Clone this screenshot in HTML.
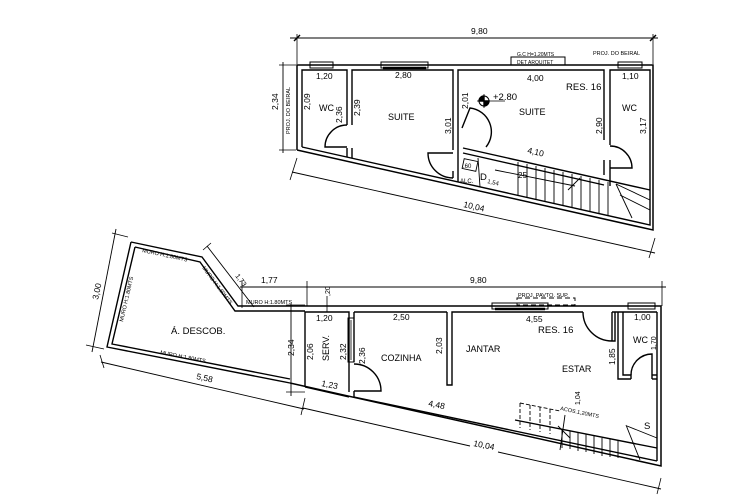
<!DOCTYPE html>
<html><head><meta charset="utf-8"><style>
html,body{margin:0;padding:0;background:#fff;}
svg{display:block;}
text{font-family:"Liberation Sans",sans-serif;fill:#000;}
</style></head><body>
<svg width="732" height="504" viewBox="0 0 732 504" xmlns="http://www.w3.org/2000/svg">
<rect width="732" height="504" fill="#fff"/>
<g stroke="#000" fill="none" stroke-width="1.4">
<!-- ===== UPPER PLAN ===== -->
<line x1="290" y1="38" x2="658" y2="38" stroke-width="0.9"/>
<line x1="297" y1="34" x2="297" y2="64" stroke-width="0.8"/>
<line x1="653" y1="34" x2="653" y2="64" stroke-width="0.8"/>
<line x1="294" y1="41" x2="300" y2="35"/><line x1="650" y1="41" x2="656" y2="35"/>
<line x1="283" y1="62" x2="283" y2="153" stroke-width="0.9"/>
<line x1="279" y1="65" x2="296" y2="65" stroke-width="0.8"/>
<line x1="279" y1="150" x2="296" y2="150" stroke-width="0.8"/>
<line x1="292" y1="172" x2="655" y2="253" stroke-width="0.9"/>
<line x1="297" y1="158" x2="290" y2="180" stroke-width="0.8"/>
<line x1="655" y1="238" x2="649" y2="258" stroke-width="0.8"/>
<polyline points="297,150 297,65 653,65 653,230 297,150" stroke-width="1.5"/>
<polyline points="302,147 302,70 347,70 347,125"/>
<polyline points="352,125 352,70 453,70 453,150"/>
<polyline points="458,150 458,70 604,70 604,140"/>
<polyline points="610,145 610,70 650,70 650,225 302,147"/>
<line x1="347" y1="148" x2="347" y2="157"/><line x1="352" y1="148" x2="352" y2="158"/>
<line x1="453" y1="171" x2="453" y2="178"/>
<line x1="604" y1="160" x2="604" y2="175"/><line x1="610" y1="160" x2="610" y2="186"/>
<path d="M347,147 L325,147 A22,22 0 0 1 347,125"/>
<path d="M453,153 L428,153 A25,25 0 0 0 453,178"/>
<path d="M462,128 L470,108 A24,24 0 0 1 486,147"/>
<path d="M610,146 A22,22 0 0 1 632,168 L610,168"/>
<rect x="310" y="62" width="23" height="6" stroke-width="1"/>
<rect x="381" y="62" width="47" height="6" stroke-width="1"/>
<rect x="511" y="57" width="54" height="8" stroke-width="1"/>
<rect x="618" y="62" width="24" height="6" stroke-width="1"/>
<line x1="383" y1="68" x2="426" y2="68" stroke-width="2.5"/>
<line x1="463" y1="148" x2="650" y2="190"/>
<line x1="463" y1="153" x2="604" y2="185"/>
<line x1="458" y1="150" x2="458" y2="182"/>
<g stroke-width="0.9">
<line x1="518" y1="162" x2="518" y2="195"/><line x1="527" y1="164" x2="527" y2="197"/>
<line x1="536" y1="166" x2="536" y2="199"/><line x1="545" y1="168" x2="545" y2="201"/>
<line x1="554" y1="170" x2="554" y2="203"/><line x1="563" y1="172" x2="563" y2="205"/>
<line x1="572" y1="174" x2="572" y2="207"/><line x1="581" y1="176" x2="581" y2="209"/>
<line x1="590" y1="178" x2="590" y2="211"/><line x1="599" y1="180" x2="599" y2="213"/>
<line x1="608" y1="182" x2="608" y2="215"/><line x1="616" y1="184" x2="632" y2="218"/>
<line x1="616" y1="184" x2="650" y2="200"/><line x1="620" y1="195" x2="650" y2="210"/>
<line x1="478" y1="158" x2="480" y2="187"/>
<rect x="463" y="160" width="14" height="10" transform="rotate(12 470 165)"/>
<line x1="495" y1="170" x2="575" y2="186"/>
<line x1="568" y1="190" x2="580" y2="178"/>
</g>
<circle cx="484" cy="101" r="5" stroke-width="1"/>
<line x1="477" y1="101" x2="505" y2="101" stroke-width="0.8"/>
<line x1="484" y1="94" x2="484" y2="108" stroke-width="0.8"/>
<path d="M484,96 A5,5 0 0 0 479,101 L484,101Z M484,106 A5,5 0 0 0 489,101 L484,101Z" fill="#000"/>

<!-- ===== LOWER PLAN ===== -->
<line x1="240" y1="287" x2="666" y2="287" stroke-width="0.9"/>
<line x1="242" y1="281" x2="242" y2="308" stroke-width="0.8"/>
<line x1="307" y1="281" x2="307" y2="306" stroke-width="0.8"/>
<line x1="662" y1="281" x2="662" y2="306" stroke-width="0.8"/>
<line x1="327" y1="296" x2="327" y2="312" stroke-width="0.8"/>
<line x1="291" y1="304" x2="291" y2="396" stroke-width="0.9"/>
<line x1="286" y1="305" x2="305" y2="305" stroke-width="0.8"/>
<line x1="286" y1="392" x2="305" y2="392" stroke-width="0.8"/>
<polyline points="131,242 202,257 238,306 305,306"/>
<polyline points="135,247 200,262 235,311 305,311"/>
<polyline points="131,242 107,347 290,383"/>
<polyline points="135,247 112,344 290,379"/>
<line x1="116" y1="229" x2="92" y2="352" stroke-width="0.9"/>
<line x1="112" y1="233" x2="128" y2="237" stroke-width="0.8"/>
<line x1="86" y1="345" x2="104" y2="349" stroke-width="0.8"/>
<line x1="101" y1="362" x2="304" y2="409" stroke-width="0.9"/>
<line x1="100" y1="355" x2="104" y2="368" stroke-width="0.8"/>
<line x1="305" y1="398" x2="301" y2="415" stroke-width="0.8"/>
<line x1="207" y1="246" x2="254" y2="307" stroke-width="0.9"/>
<line x1="203" y1="250" x2="211" y2="243" stroke-width="0.8"/>
<polyline points="305,306 661,306 661,466 290,383" stroke-width="1.5"/>
<polyline points="305,387 305,312 349,312 349,392"/>
<line x1="354" y1="312" x2="354" y2="362"/>
<line x1="354" y1="312" x2="447" y2="312"/>
<polyline points="447,312 447,385 452,385 452,312 583,312"/>
<line x1="612" y1="312" x2="657" y2="312"/>
<line x1="657" y1="312" x2="657" y2="461"/>
<line x1="354" y1="391" x2="354" y2="397"/>
<line x1="354" y1="397" x2="657" y2="461"/>
<line x1="305" y1="387" x2="349" y2="397"/>
<rect x="348" y="318" width="6" height="44" stroke-width="1"/>
<line x1="351" y1="320" x2="351" y2="360" stroke-width="0.8"/>
<path d="M354,364 A27,27 0 0 1 381,391 L354,391"/>
<path d="M583,312 A29,29 0 0 0 612,341 L612,312 M615,312 L615,341 L612,341"/>
<polyline points="618,312 618,379 631,379"/>
<polyline points="623,312 623,375 631,375 631,379"/>
<line x1="652" y1="375" x2="657" y2="375"/><line x1="652" y1="375" x2="652" y2="379"/><line x1="652" y1="379" x2="657" y2="379"/>
<path d="M631,375 A21,21 0 0 1 652,354 L652,375"/>
<rect x="492" y="303" width="56" height="6" stroke-width="1"/>
<line x1="495" y1="309" x2="545" y2="309" stroke-width="2.5"/>
<rect x="517" y="298" width="58" height="7" stroke-dasharray="5,3" stroke-width="0.9"/>
<rect x="628" y="303" width="27" height="6" stroke-width="1"/>
<line x1="515" y1="420" x2="657" y2="448"/>
<g stroke-width="0.9">
<line x1="562" y1="430" x2="562" y2="448"/><line x1="570" y1="431" x2="570" y2="449"/>
<line x1="578" y1="433" x2="578" y2="451"/><line x1="586" y1="434" x2="586" y2="452"/>
<line x1="594" y1="436" x2="594" y2="454"/><line x1="602" y1="438" x2="602" y2="456"/>
<line x1="610" y1="439" x2="610" y2="457"/><line x1="618" y1="441" x2="618" y2="458"/>
<line x1="626" y1="425" x2="640" y2="460"/><line x1="627" y1="426" x2="657" y2="438"/>
<g stroke-dasharray="4,2">
<line x1="520" y1="403" x2="520" y2="428"/><line x1="530" y1="405" x2="530" y2="430"/>
<line x1="540" y1="407" x2="540" y2="432"/><line x1="550" y1="409" x2="550" y2="434"/>
<line x1="520" y1="403" x2="560" y2="411"/>
</g>
<line x1="565" y1="415" x2="560" y2="450"/>
<line x1="558" y1="426" x2="570" y2="438"/>
</g>
<line x1="303" y1="408" x2="470" y2="446" stroke-width="0.9"/>
<line x1="498" y1="452" x2="661" y2="489" stroke-width="0.9"/>
<line x1="661" y1="478" x2="657" y2="494" stroke-width="0.8"/>
</g>

<g font-size="8.5">
<text x="471" y="34">9,80</text>
<text x="593" y="55" font-size="5.5">PROJ. DO BEIRAL</text>
<text x="517" y="56" font-size="5">G.C H=1.20MTS</text>
<text x="517" y="64" font-size="5">DET ARQUITET</text>
<text x="316" y="79">1,20</text><text x="395" y="78">2,80</text>
<text x="527" y="81">4,00</text><text x="622" y="79">1,10</text>
<text x="566" y="90" font-size="9.5">RES. 16</text>
<text x="319" y="111" font-size="9">WC</text>
<text x="388" y="120" font-size="9">SUITE</text>
<text x="519" y="115" font-size="9">SUITE</text>
<text x="622" y="111" font-size="9">WC</text>
<text x="493" y="100" font-size="9.5">+2.80</text>
<text transform="translate(278,110) rotate(-90)">2,34</text>
<text transform="translate(290,134) rotate(-90)" font-size="5.5">PROJ. DO BEIRAL</text>
<text transform="translate(310,110) rotate(-90)">2,09</text>
<text transform="translate(342,123) rotate(-90)">2,36</text>
<text transform="translate(360,116) rotate(-90)">2,39</text>
<text transform="translate(451,134) rotate(-90)">3,01</text>
<text transform="translate(468,109) rotate(-90)">2,01</text>
<text transform="translate(602,134) rotate(-90)">2,90</text>
<text transform="translate(646,134) rotate(-90)">3,17</text>
<text transform="translate(527,153) rotate(12.7)">4,10</text>
<text transform="translate(463,207) rotate(12.7)">10,04</text>
<text x="480" y="180" font-size="9.5">D</text>
<text x="518" y="178" font-size="8">25</text>
<text x="460" y="183" font-size="6">ALC.</text>
<text x="463" y="168" font-size="6">.60</text>
<text transform="translate(487,183) rotate(12.7)" font-size="6">1,54</text>
<text x="261" y="283">1,77</text>
<text x="470" y="283">9,80</text>
<text x="518" y="297" font-size="5.5">PROJ. PAVTO. SUP.</text>
<text transform="translate(235,276) rotate(53)" font-size="7">1,73</text>
<text transform="translate(98,300) rotate(-78)">3,00</text>
<text transform="translate(196,379) rotate(12)">5,58</text>
<text transform="translate(142,252) rotate(12)" font-size="5.5">MURO H:1.80MTS</text>
<text transform="translate(202,268) rotate(53)" font-size="5.5">MURO H:1.80MTS</text>
<text transform="translate(123,322) rotate(-77)" font-size="5.5">MURO H:1.80MTS</text>
<text transform="translate(160,354) rotate(11)" font-size="5.5">MURO H:1.80MTS</text>
<text x="246" y="304" font-size="5.5">MURO H:1.80MTS</text>
<text x="171" y="334" font-size="9.5">Á. DESCOB.</text>
<text transform="translate(294,356) rotate(-90)">2,34</text>
<text transform="translate(313,360) rotate(-90)">2,06</text>
<text transform="translate(329,361) rotate(-90)" font-size="9">SERV.</text>
<text transform="translate(346,360) rotate(-90)">2,32</text>
<text transform="translate(365,364) rotate(-90)">2,36</text>
<text transform="translate(330,296) rotate(-90)" font-size="7">,20</text>
<text x="316" y="321">1,20</text>
<text transform="translate(321,386) rotate(11)">1,23</text>
<text x="393" y="320">2,50</text>
<text x="381" y="361" font-size="9">COZINHA</text>
<text transform="translate(442,354) rotate(-90)">2,03</text>
<text x="466" y="352" font-size="9">JANTAR</text>
<text x="526" y="322">4,55</text>
<text x="538" y="333" font-size="9.5">RES. 16</text>
<text x="562" y="372" font-size="9">ESTAR</text>
<text transform="translate(615,365) rotate(-90)">1,85</text>
<text x="634" y="320">1,00</text>
<text x="633" y="343" font-size="9">WC</text>
<text transform="translate(656,350) rotate(-90)" font-size="7">1,70</text>
<text transform="translate(580,405) rotate(-90)" font-size="7">1,04</text>
<text transform="translate(560,410) rotate(12)" font-size="5.5">ACOS.1,20MTS</text>
<text x="644" y="429" font-size="9.5">S</text>
<text transform="translate(428,406) rotate(11)">4,48</text>
<text transform="translate(473,446) rotate(11)">10,04</text>
</g>
</svg>
</body></html>
